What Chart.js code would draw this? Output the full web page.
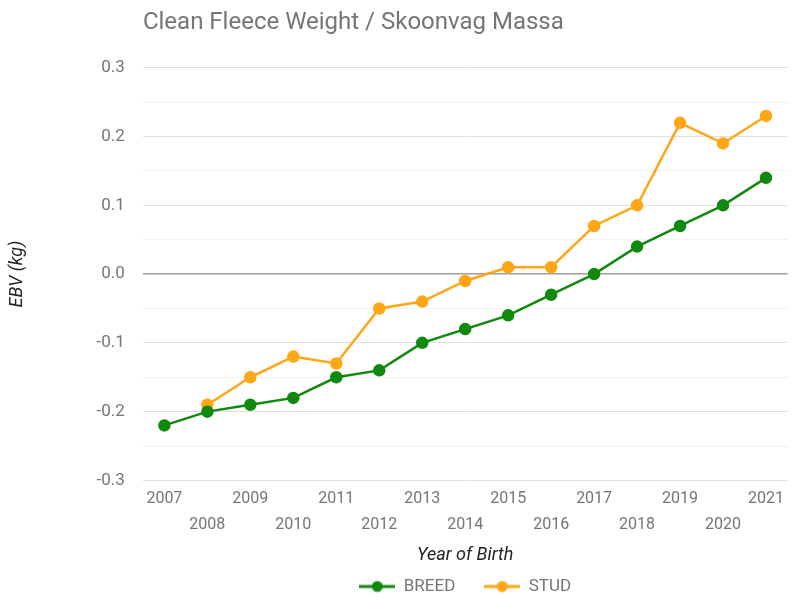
<!DOCTYPE html>
<html>
<head>
<meta charset="utf-8">
<script src="https://cdn.jsdelivr.net/npm/chart.js@4.4.1/dist/chart.umd.min.js"></script>
<style>
    html, body { margin: 0; padding: 0; background: #fff; }
    #wrap { width: 795px; height: 605px; }
</style>
</head>
<body>
<div id="wrap"><canvas id="fleeceChart" width="795" height="605"></canvas></div>
<script>
// datos del grafico
const years = ['2007', '2008', '2009', '2010', '2011', '2012', '2013', '2014', '2015', '2016', '2017', '2018', '2019', '2020', '2021'];
const breed = [-0.22, -0.20, -0.19, -0.18, -0.15, -0.14, -0.10, -0.08, -0.06, -0.03, 0.00, 0.04, 0.07, 0.10, 0.14];
const stud = [null, -0.19, -0.15, -0.12, -0.13, -0.05, -0.04, -0.01, 0.01, 0.01, 0.07, 0.10, 0.22, 0.19, 0.23];
const yTicks = [-0.3, -0.2, -0.1, 0.0, 0.1, 0.2, 0.3];

const GREEN = '#0f8a0f';
const ORANGE = '#ffa617';
const GREY = '#757575';

// icono de la leyenda: linea con punto
function legendIcon(color) {
    const c = document.createElement('canvas');
    c.width = 36;
    c.height = 14;
    const g = c.getContext('2d');
    g.strokeStyle = color;
    g.lineWidth = 3;
    g.beginPath();
    g.moveTo(0, 7);
    g.lineTo(36, 7);
    g.stroke();
    g.fillStyle = color;
    g.beginPath();
    g.arc(18, 7, 5.5, 0, Math.PI * 2);
    g.fill();
    return c;
}

const ctx = document.getElementById('fleeceChart').getContext('2d');
new Chart(ctx, {
    type: 'line',
    data: {
        labels: years,
        datasets: [
            {
                label: 'BREED',
                data: breed,
                borderColor: GREEN,
                backgroundColor: GREEN,
                borderWidth: 2.5,
                pointRadius: 5,
                pointHoverRadius: 5,
                pointStyle: 'circle',
                tension: 0
            },
            {
                label: 'STUD',
                data: stud,
                borderColor: ORANGE,
                backgroundColor: ORANGE,
                borderWidth: 2.5,
                pointRadius: 5,
                pointHoverRadius: 5,
                pointStyle: 'circle',
                tension: 0
            }
        ]
    },
    options: {
        responsive: false,
        animation: false,
        layout: {
            padding: { left: 0, right: 3, top: 0, bottom: 0 }
        },
        plugins: {
            title: {
                display: true,
                text: 'Clean Fleece Weight / Skoonvag Massa',
                align: 'start',
                fullSize: false,
                color: GREY,
                font: { family: 'Roboto', size: 24, weight: 'normal' },
                padding: { top: 9, bottom: 30 }
            },
            legend: {
                position: 'bottom',
                fullSize: false,
                labels: {
                    usePointStyle: true,
                    pointStyleWidth: 36,
                    boxHeight: 14,
                    color: GREY,
                    font: { family: 'Roboto', size: 17 },
                    padding: 12,
                    generateLabels: (chart) => chart.data.datasets.map((ds, i) => ({
                        // espacios extra para separar los items
                        text: i === 0 ? ds.label + '    ' : ds.label,
                        fontColor: GREY,
                        pointStyle: legendIcon(ds.borderColor),
                        datasetIndex: i,
                        hidden: false,
                        lineWidth: 0
                    }))
                }
            },
            tooltip: { enabled: false }
        },
        scales: {
            x: {
                offset: true,
                grid: { display: false },
                border: { display: false },
                ticks: {
                    autoSkip: false,
                    maxRotation: 0,
                    color: GREY,
                    padding: -2,
                    font: { family: 'Roboto', size: 16, lineHeight: '26px' },
                    callback: function (value, index) {
                        const label = this.getLabelForValue(value);
                        return index % 2 === 0 ? [label, ''] : ['', label];
                    }
                },
                title: {
                    display: true,
                    text: 'Year of Birth',
                    color: '#222',
                    font: { family: 'Roboto', size: 18, style: 'italic' },
                    padding: { top: 8, bottom: 0 }
                }
            },
            y: {
                min: -0.3,
                max: 0.3,
                border: { display: false },
                grid: {
                    drawTicks: false,
                    color: (c) => {
                        const v = Math.round(c.tick.value * 100);
                        if (v === 0) return '#9e9e9e';
                        return v % 10 === 0 ? '#e0e0e0' : '#f1f1f1';
                    },
                    lineWidth: (c) => Math.round(c.tick.value * 100) === 0 ? 1.5 : 1
                },
                ticks: {
                    stepSize: 0.05,
                    color: GREY,
                    padding: 18,
                    font: { family: 'Roboto', size: 17 },
                    callback: (value) => {
                        const v = Math.round(value * 100) / 100;
                        return yTicks.some(t => Math.abs(t - v) < 1e-6) ? v.toFixed(1) : '';
                    }
                },
                title: {
                    display: true,
                    text: 'EBV (kg)',
                    color: '#222',
                    font: { family: 'Roboto', size: 18, style: 'italic' },
                    padding: { top: 7, bottom: 50 }
                }
            }
        }
    }
});
</script>
</body>
</html>
